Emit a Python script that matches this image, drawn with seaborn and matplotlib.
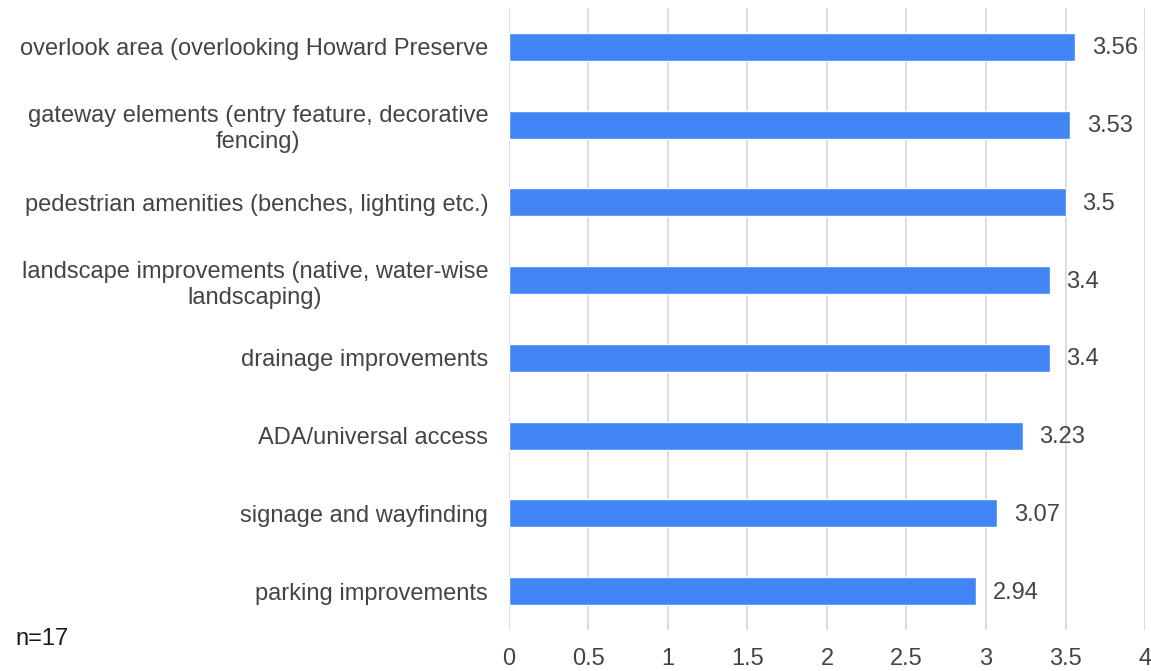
import numpy as np
import pandas as pd
import matplotlib
matplotlib.use("Agg")
import matplotlib.pyplot as plt
import seaborn as sns

# data
categories = [
    "overlook area (overlooking Howard Preserve",
    "gateway elements (entry feature, decorative\nfencing)",
    "pedestrian amenities (benches, lighting etc.)",
    "landscape improvements (native, water-wise\nlandscaping)",
    "drainage improvements",
    "ADA/universal access",
    "signage and wayfinding",
    "parking improvements",
]
scores = [3.56, 3.53, 3.5, 3.4, 3.4, 3.23, 3.07, 2.94]
value_labels = ["3.56", "3.53", "3.5", "3.4", "3.4", "3.23", "3.07", "2.94"]
x_ticks = [0, 0.5, 1, 1.5, 2, 2.5, 3, 3.5, 4]
x_tick_labels = ["0", "0.5", "1", "1.5", "2", "2.5", "3", "3.5", "4"]

df = pd.DataFrame({"category": categories, "score": scores})

sns.set_style("white")
plt.rcParams["font.family"] = ["Liberation Sans", "DejaVu Sans"]

fig = plt.figure(figsize=(11.51, 6.71), dpi=100)
ax = fig.add_axes([0.4422, 0.0611, 0.5526, 0.927])

sns.barplot(data=df, x="score", y="category", color="#4285F4",
            saturation=1, width=0.36, ax=ax)

ax.set_xlim(0, 4)
ax.set_xticks(x_ticks)
ax.set_xticklabels(x_tick_labels)
ax.grid(axis="x", color="#d9d9d9", linewidth=1.3)
ax.set_axisbelow(True)
for s in ax.spines.values():
    s.set_visible(False)

ax.set_xlabel("")
ax.set_ylabel("")
ax.tick_params(axis="x", length=0, pad=13, labelsize=17, labelcolor="#444444")
ax.tick_params(axis="y", length=0, pad=15, labelsize=17, labelcolor="#444444")
for lbl in ax.get_yticklabels():
    lbl.set_multialignment("center")
    lbl.set_linespacing(1.25)

for i, (v, t) in enumerate(zip(scores, value_labels)):
    ax.annotate(t, (v, i), xytext=(12, -1), textcoords="offset points",
                va="center", ha="left", fontsize=17, color="#444444")

fig.text(0.013, 0.047, "n=17", fontsize=17, color="#1a1a1a", va="center")

fig.savefig("out.png", dpi=100)
